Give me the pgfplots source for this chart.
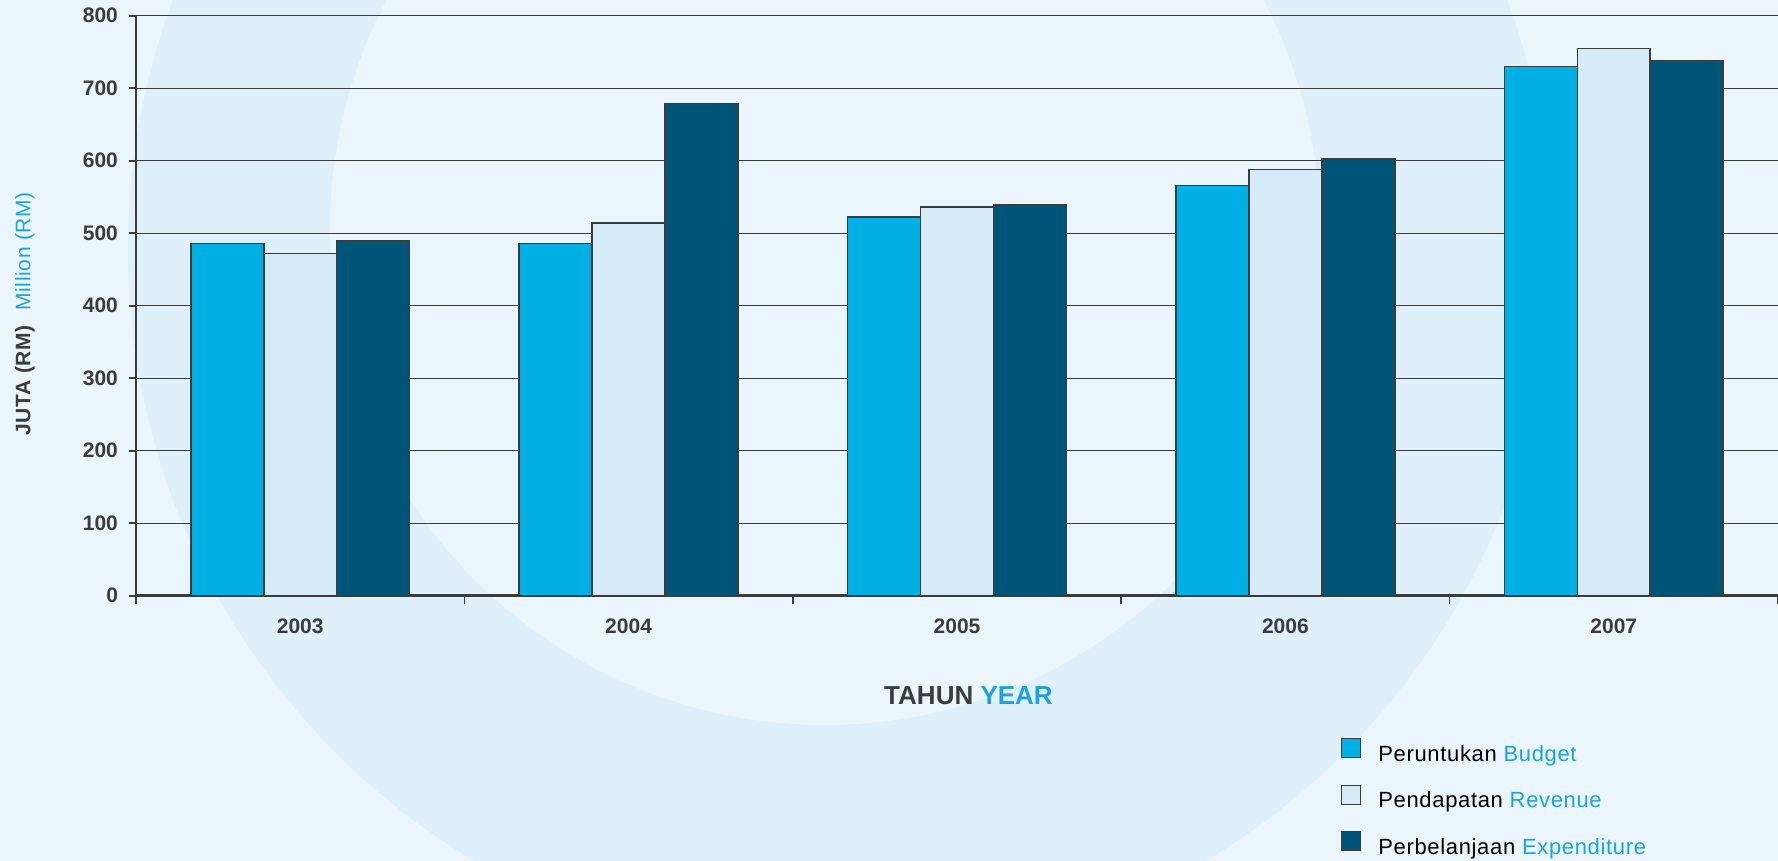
\documentclass[border=0pt]{standalone}
\usepackage{fontspec}
\setmainfont{Liberation Sans}
\usepackage{pgfplots}
\usepackage{pgfplotstable}
\pgfplotsset{compat=1.18}

\definecolor{bg}{HTML}{EAF5FC}
\definecolor{ring}{HTML}{DFF0FA}
\definecolor{budget}{HTML}{00B0E4}
\definecolor{revenue}{HTML}{D6EBF8}
\definecolor{spend}{HTML}{005478}
\definecolor{ink}{HTML}{3C3C3C}
\definecolor{engblue}{HTML}{1BA3E1}

% juta RM, 2003-2007
\pgfplotstableread{
x budget revenue spend
0 486 472 489
1 486 514 679
2 522 536 539
3 566 588 602
4 730 755 738
}\datatable

\begin{document}
\begin{tikzpicture}
\useasboundingbox (0,0) rectangle (889pt,430.5pt);
\clip (0,0) rectangle (889pt,430.5pt);
% background with the pale ring
\fill[bg] (0,0) rectangle (889pt,430.5pt);
\fill[ring] (420pt,305.5pt) circle[radius=356pt];
\fill[bg] (412.5pt,315.5pt) circle[radius=247.5pt];

\begin{axis}[
  at={(68pt,132.65pt)}, anchor=south west,
  width=821pt, height=290pt, scale only axis,
  ybar=0pt, bar width=0.222,
  xmin=-0.5, xmax=4.5, ymin=0, ymax=800,
  ytick={0,100,...,800},
  xtick={0,...,4},
  xticklabels={2003,2004,2005,2006,2007},
  minor xtick={-0.5,0.5,...,4.5},
  axis x line*=bottom, axis y line*=left,
  axis line style={-, ink, line width=1.3pt},
  tick align=outside,
  major tick length=3.5pt, minor tick length=4pt,
  major x tick style={draw=none},
  minor x tick style={ink, line width=0.8pt},
  major y tick style={ink, line width=1pt},
  ymajorgrids,
  major grid style={ink, line width=0.6pt},
  /pgf/number format/assume math mode=true,
  yticklabel style={font=\bfseries\fontsize{10.5}{12}\selectfont, text=ink, xshift=-2pt},
  xticklabel style={font=\bfseries\fontsize{10.5}{12}\selectfont, text=ink, yshift=-4.7pt},
  ylabel={\textbf{JUTA (RM)}\hspace{7pt}\textcolor{engblue}{Million (RM)}},
  ylabel style={at={(axis description cs:-0.0676,0.486)}, anchor=center,
    font=\fontsize{10.5}{12}\selectfont\addfontfeatures{LetterSpace=3}, text=ink},
  xlabel={\textbf{TAHUN \textcolor{engblue}{YEAR}}},
  xlabel style={at={(axis description cs:0.507,-0.172)}, anchor=center,
    font=\fontsize{13}{15}\selectfont, text=ink},
  legend style={at={(axis description cs:0.7337,-0.245)}, anchor=north west,
    draw=none, fill=none, inner sep=0pt, row sep=9.2pt,
    font=\fontsize{11}{13}\selectfont\addfontfeatures{LetterSpace=3},
    nodes={text height=8pt, text depth=2.5pt, inner sep=0pt, text=black},
    /tikz/every odd column/.style={column sep=8.5pt}},
  legend cell align=left,
  sq legend/.style={legend image code/.code={
    \draw[##1, draw=ink, line width=0.6pt] (0pt,-1.0pt) rectangle (9.5pt,8.5pt);}},
  every axis plot/.append style={draw=ink, line width=0.8pt},
]
\addplot[fill=budget, bar shift=-0.222, sq legend] table[x=x, y=budget] {\datatable};
\addlegendentry{Peruntukan \textcolor{engblue}{Budget}}
\addplot[fill=revenue, bar shift=0, sq legend] table[x=x, y=revenue] {\datatable};
\addlegendentry{Pendapatan \textcolor{engblue}{Revenue}}
\addplot[fill=spend, bar shift=0.222, sq legend] table[x=x, y=spend] {\datatable};
\addlegendentry{Perbelanjaan \textcolor{engblue}{Expenditure}}
\end{axis}
\end{tikzpicture}
\end{document}
